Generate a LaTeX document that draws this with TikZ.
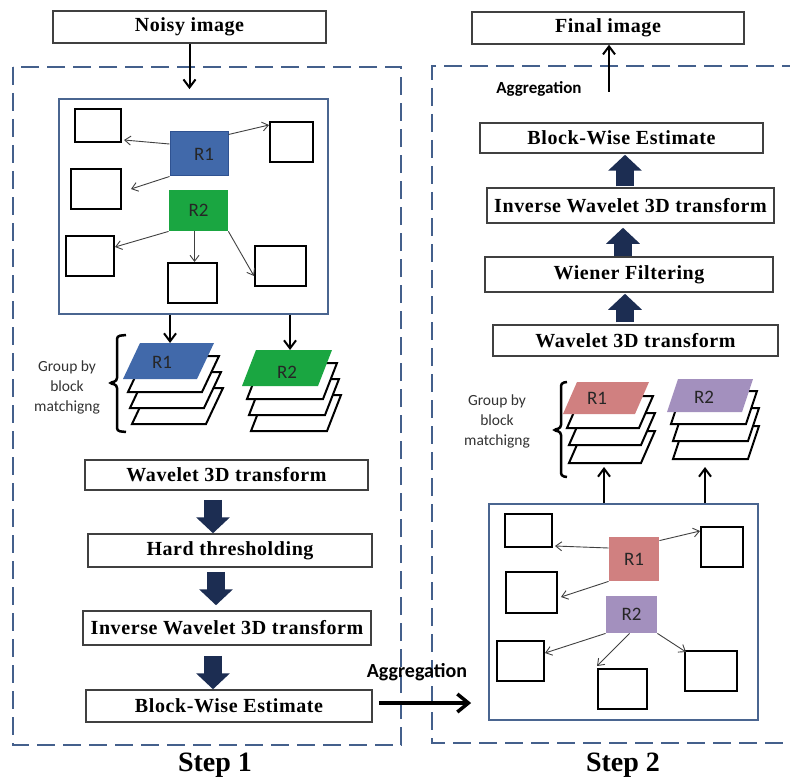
\documentclass[tikz,border=0pt]{standalone}
\usepackage{fontspec}
\setmainfont{Liberation Serif}
\newfontfamily\calfont{Carlito}
\newfontfamily\boxfont{Liberation Serif}[LetterSpace=3]
\usetikzlibrary{arrows.meta}

\definecolor{framecol}{RGB}{68,96,140}
\definecolor{innercol}{RGB}{74,101,144}
\definecolor{r1blue}{RGB}{65,105,170}
\definecolor{r1edge}{RGB}{47,82,145}
\definecolor{r2green}{RGB}{26,166,65}
\definecolor{r1pink}{RGB}{208,128,128}
\definecolor{r2purple}{RGB}{163,144,190}
\definecolor{bignavy}{RGB}{28,45,82}

\begin{document}
\begin{tikzpicture}[x=1pt,y=-1pt,thick,
    box/.style={draw=black!75, line width=1.5pt, rectangle, inner sep=0pt, font=\boxfont\fontsize{20}{24}\selectfont\bfseries},
    frame/.style={draw=framecol, line width=2pt, dash pattern=on 18pt off 8pt},
    inner/.style={draw=innercol, line width=1.8pt, rectangle},
    patch/.style={draw=black, line width=2pt, fill=white, rectangle, inner sep=0pt},
    rblock/.style={inner sep=0pt, text=black!85, font=\calfont\fontsize{19}{22}\selectfont},
    link/.style={-{Straight Barb[length=6pt,width=9pt]}, draw=black!75, line width=0.9pt},
    flow/.style={-{Straight Barb[length=8pt,width=12pt]}, line width=2pt},
    layer/.style={draw=black, line width=2pt, fill=white},
    brace/.style={draw=black, line width=2.5pt, rounded corners=3pt},
    bigarrow/.style={draw=bignavy, line width=18pt, -{Triangle[length=16pt,width=33pt]}},
    aggarrow/.style={-{Straight Barb[length=11pt,width=18pt]}, line width=3.5pt},
    note/.style={font=\calfont\fontsize{15.5}{20}\selectfont, text=black!80, align=center},
    steplabel/.style={font=\fontsize{28}{32}\selectfont\bfseries}]
    \useasboundingbox (0,0) rectangle (790,781);

    % ---- Step 1 ----
    \node (noisy) [box, minimum width=273pt, minimum height=32pt] at (189.5,27) {Noisy image};
    \draw[frame] (13,67) rectangle (401,745);
    \node (inner1) [inner, minimum width=269pt, minimum height=215pt] at (193.5,206.5) {};
    \draw[flow] (noisy.south) -- ([yshift=9pt]inner1.north -| noisy.south);

    \node (r1) [rblock, fill=r1blue, draw=r1edge, line width=1pt, minimum width=58pt, minimum height=44pt] at (199,154) {\hspace{10pt}R1};
    \node (r2) [rblock, fill=r2green, minimum width=59pt, minimum height=41pt] at (198.5,210.5) {R2};
    \node (p1) [patch, minimum width=46pt, minimum height=33pt] at (98,125.5) {};
    \node (p2) [patch, minimum width=50pt, minimum height=40pt] at (96,189) {};
    \node (p3) [patch, minimum width=43pt, minimum height=40pt] at (291.5,142) {};
    \node (p4) [patch, minimum width=48pt, minimum height=40pt] at (90,256) {};
    \node (p5) [patch, minimum width=49pt, minimum height=40pt] at (192.5,283) {};
    \node (p6) [patch, minimum width=51pt, minimum height=40pt] at (280.5,266) {};

    \draw[link] ([yshift=10pt]r1.west) -- ([xshift=2pt,yshift=3pt]p1.south east);
    \draw[link] ([yshift=-3pt]r1.north east) -- ([yshift=-4pt]p3.north west);
    \draw[link] (r1.south west) -- ([xshift=9pt]p2.east);
    \draw[link] (r2.south west) -- ([yshift=9pt]p4.east);
    \draw[link] ([xshift=-4pt]r2.south) -- ([xshift=-4pt]r2.south |- p5.north);
    \draw[link] (r2.south east) -- ([yshift=-10pt]p6.west);

    % grouped stacks
    \coordinate (s1) at (170,343);
    \coordinate (s2) at (290,350);
    \draw[flow] (inner1.south -| s1) -- (s1);
    \draw[flow] (inner1.south -| s2) -- (s2);
    \foreach \dx/\dy in {9/45,7/29,5/13}
        \draw[layer] (123+\dx,379+\dy) -- ++(74,0) -- ++(17,-36) -- ++(-74,0) -- cycle;
    \fill[r1blue] (123,379) -- ++(74,0) -- ++(17,-36) -- ++(-74,0) -- cycle;
    \node (g1) [rblock] at (162,362) {R1};
    \foreach \dx/\dy in {9/45,7/29,5/13}
        \draw[layer] (242+\dx,386+\dy) -- ++(76,0) -- ++(14,-36) -- ++(-76,0) -- cycle;
    \fill[r2green] (242,386) -- ++(76,0) -- ++(14,-36) -- ++(-76,0) -- cycle;
    \node (g2) [rblock] at (287,372) {R2};
    \draw[brace] (126,335) -- (117,336) -- (117,381) -- (109,383) -- (117,385) -- (117,431) -- (126,432);
    \node (group1) [note] at (67,387) {Group by\\block\\matchigng};

    \node (wt1) [box, minimum width=283pt, minimum height=30pt] at (226.5,475) {Wavelet 3D transform};
    \node (ht1) [box, minimum width=284pt, minimum height=33pt] at (230,550.5) {Hard thresholding};
    \node (iw1) [box, minimum width=288pt, minimum height=34pt] at (227,628) {Inverse Wavelet 3D transform};
    \node (bw1) [box, minimum width=286pt, minimum height=32pt] at (229,706) {Block-Wise Estimate};
    \draw[bigarrow] ([xshift=-13.5pt,yshift=-9pt]wt1.south) -- ([xshift=-17pt]ht1.north);
    \draw[bigarrow] ([xshift=-14pt,yshift=-4pt]ht1.south) -- ([xshift=-11pt,yshift=5pt]iw1.north);
    \draw[bigarrow] ([xshift=-14pt,yshift=-10pt]iw1.south) -- ([xshift=-16pt]bw1.north);

    \node (step1) [steplabel] at (215,765) {Step 1};

    % ---- Step 2 ----
    \node (final) [box, minimum width=272pt, minimum height=32pt] at (608,28) {Final image};
    \draw[frame] (800,66) -- (432,66) -- (432,743) -- (800,743);
    \coordinate (agg2) at (609,92);
    \draw[flow] (agg2) -- (agg2 |- final.south);
    \node (aggtxt2) [font=\calfont\bfseries\fontsize{17}{20}\selectfont] at (539,89) {Aggregation};

    \node (bw2) [box, minimum width=283pt, minimum height=30pt] at (621.5,138) {Block-Wise Estimate};
    \node (iw2) [box, minimum width=287pt, minimum height=35pt] at (630.5,205.5) {Inverse Wavelet 3D transform};
    \node (wf2) [box, minimum width=288pt, minimum height=35pt] at (629,274.5) {Wiener Filtering};
    \node (wt2) [box, minimum width=285pt, minimum height=31pt] at (635.5,340.5) {Wavelet 3D transform};
    \draw[bigarrow] ([xshift=-10.5pt,yshift=2pt]wt2.north) -- ([xshift=-4pt,yshift=-1pt]wf2.south);
    \draw[bigarrow] ([xshift=-6pt]wf2.north) -- ([xshift=-7.5pt,yshift=-4pt]iw2.south);
    \draw[bigarrow] ([xshift=-5.5pt,yshift=1pt]iw2.north) -- ([xshift=3.5pt,yshift=-1pt]bw2.south);

    % grouped stacks
    \foreach \dx/\dy in {6/49,6/31,4/14}
        \draw[layer] (563+\dx,414+\dy) -- ++(72,0) -- ++(14,-32) -- ++(-72,0) -- cycle;
    \fill[r1pink] (563,414) -- ++(72,0) -- ++(14,-32) -- ++(-72,0) -- cycle;
    \node (g3) [rblock] at (597,398) {R1};
    \foreach \dx/\dy in {6/47,6/29,4/12}
        \draw[layer] (667+\dx,412+\dy) -- ++(75,0) -- ++(11,-33) -- ++(-75,0) -- cycle;
    \fill[r2purple] (667,412) -- ++(75,0) -- ++(11,-33) -- ++(-75,0) -- cycle;
    \node (g4) [rblock] at (704,397) {R2};
    \draw[brace] (567,382) -- (561,383) -- (561,428) -- (553,430) -- (561,432) -- (561,476) -- (567,477);
    \node (group2) [note] at (497,421) {Group by\\block\\matchigng};

    \node (inner2) [inner, minimum width=269pt, minimum height=216pt] at (623.5,612) {};
    \coordinate (s3) at (604,467);
    \coordinate (s4) at (705,467);
    \draw[flow] (inner2.north -| s3) -- (s3);
    \draw[flow] (inner2.north -| s4) -- (s4);

    \node (r1b) [rblock, fill=r1pink, minimum width=50pt, minimum height=44pt] at (634,559) {R1};
    \node (r2b) [rblock, fill=r2purple, minimum width=51pt, minimum height=37pt] at (631.5,614.5) {R2};
    \node (q1) [patch, minimum width=47pt, minimum height=33pt] at (528.5,530.5) {};
    \node (q2) [patch, minimum width=51pt, minimum height=41pt] at (531.5,592.5) {};
    \node (q3) [patch, minimum width=42pt, minimum height=40pt] at (722,547) {};
    \node (q4) [patch, minimum width=47pt, minimum height=40pt] at (520.5,661) {};
    \node (q5) [patch, minimum width=49pt, minimum height=40pt] at (622.5,689) {};
    \node (q6) [patch, minimum width=52pt, minimum height=40pt] at (711,671) {};

    \draw[link] ([yshift=11pt]r1b.west) -- ([xshift=2pt,yshift=2pt]q1.south east);
    \draw[link] ([yshift=-4pt]r1b.north east) -- ([yshift=-5pt]q3.north west);
    \draw[link] (r1b.south west) -- ([xshift=3pt,yshift=-4.5pt]q2.east);
    \draw[link] (r2b.south west) -- ([yshift=8pt]q4.east);
    \draw[link] ([xshift=-2pt]r2b.south) -- ([yshift=2pt]q5.north west);
    \draw[link] (r2b.south east) -- ([xshift=2pt,yshift=-2pt]q6.north west);

    % step 1 to step 2
    \draw[aggarrow] ([xshift=6pt,yshift=3pt]bw1.east) -- node[midway, above=17pt, xshift=-8pt, font=\calfont\bfseries\fontsize{20}{24}\selectfont] {Aggregation} ([xshift=-17pt,yshift=-91pt]inner2.west);

    \node (step2) [steplabel] at (623,765) {Step 2};
\end{tikzpicture}
\end{document}
